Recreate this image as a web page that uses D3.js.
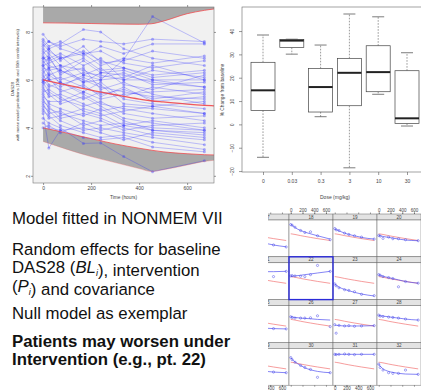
<!DOCTYPE html>
<html>
<head>
<meta charset="utf-8">
<script src="https://cdn.jsdelivr.net/npm/d3@7"></script>
<style>
  body { margin: 0; background: #fff; }
  svg { display: block; font-family: "Liberation Sans", Arial, sans-serif; }
</style>
</head>
<body>
<svg id="slide" width="421" height="392"></svg>
<script>
// ---------- observed DAS28 per patient (top left) ----------
const times = [0, 24, 72, 168, 240, 336, 456, 672];
const das28 = [
  [7.9, 7.6, 7.4, 7.7, 7.6, 7.5, 7.7, 7.6],
  [7.6, 7.3, 7.5, 8.1, 8.0, 7.3, 6.9, 6.6],
  [7.5, 7.2, 6.9, 7.2, 6.8, 6.5, 6.2, 6.4],
  [7.4, 7.6, 7.3, 7.0, 7.4, 7.1, 7.5, 7.5],
  [7.3, 7.1, 6.6, 6.4, 6.1, 6.3, 5.8, 5.9],
  [7.2, 6.9, 7.1, 6.6, 6.9, 6.0, 6.4, 6.1],
  [7.1, 7.3, 6.8, 7.4, 6.7, 6.8, 7.2, 6.9],
  [7.0, 6.6, 6.4, 6.0, 5.7, 5.5, 5.3, 5.2],
  [6.9, 7.0, 6.2, 6.8, 6.3, 6.4, 6.0, 5.7],
  [6.9, 6.8, 7.0, 6.2, 6.5, 5.8, 5.6, 6.2],
  [6.8, 6.5, 6.6, 5.9, 6.0, 6.1, 6.6, 6.0],
  [6.7, 6.9, 6.3, 6.5, 5.6, 5.9, 5.4, 5.0],
  [6.6, 6.2, 5.9, 5.5, 5.9, 5.2, 5.0, 4.8],
  [6.5, 6.4, 6.5, 6.9, 6.4, 6.5, 6.1, 6.3],
  [6.4, 6.0, 6.1, 5.7, 5.4, 5.6, 5.2, 5.5],
  [6.3, 6.5, 5.8, 6.1, 5.8, 5.0, 4.9, 4.6],
  [6.2, 5.8, 5.6, 5.2, 5.5, 5.3, 5.7, 5.4],
  [6.1, 6.3, 6.0, 6.3, 6.2, 6.0, 6.0, 6.0],
  [6.0, 5.7, 5.9, 5.4, 5.0, 4.8, 4.6, 4.3],
  [6.0, 6.1, 5.5, 5.8, 5.3, 5.7, 5.1, 5.3],
  [5.9, 5.5, 5.2, 4.9, 5.1, 4.6, 4.4, 4.5],
  [5.8, 6.0, 5.7, 6.2, 6.0, 6.85, 8.64, 7.54],
  [5.7, 5.3, 5.4, 5.0, 4.7, 4.9, 4.8, 4.6],
  [5.6, 5.4, 5.0, 5.3, 4.9, 4.4, 4.2, 3.9],
  [5.5, 5.6, 5.3, 4.7, 4.5, 4.7, 4.9, 5.1],
  [5.4, 5.0, 4.8, 4.5, 4.8, 4.3, 3.9, 3.7],
  [5.3, 5.1, 5.1, 5.5, 5.2, 5.4, 5.5, 5.6],
  [5.2, 4.8, 4.6, 4.3, 4.1, 4.2, 4.0, 3.9],
  [5.1, 4.9, 4.4, 4.6, 4.4, 4.0, 3.7, 3.5],
  [5.0, 4.6, 4.7, 4.1, 4.3, 3.9, 4.1, 4.2],
  [4.9, 4.7, 4.3, 3.9, 4.0, 3.8, 3.6, 3.3],
  [4.8, 4.4, 4.5, 4.8, 4.6, 4.1, 4.3, 4.0],
  [4.7, 4.5, 4.1, 3.8, 3.6, 3.7, 3.4, 3.1],
  [4.6, 3.16, 3.9, 4.0, 3.8, 3.5, 3.8, 3.6],
  [4.4, 4.2, 4.0, 3.35, 3.37, 2.8, 2.17, 2.63],
  [4.2, 4.0, 3.9, 3.6, 3.5, 3.6, 3.2, 3.0],
  [4.0, 4.1, 3.8, 4.2, 3.9, 4.1, 3.9, 3.8],
  [7.7, 7.4, 7.6, 7.1, 7.2, 6.7, 6.5, 6.8],
  [6.6, 6.7, 6.9, 7.1, 6.6, 6.9, 6.7, 7.0],
  [5.9, 6.2, 6.4, 5.9, 6.3, 6.2, 5.9, 5.7]
];

// model prediction and centile bands
const bandTimes = [0, 100, 200, 300, 400, 450, 500, 600, 672, 712];
const p90Upper  = [9.6, 9.6, 9.6, 9.6, 9.6, 9.6, 9.6, 9.6, 9.6, 9.6];
const p90       = [8.38, 8.37, 8.35, 8.33, 8.32, 8.34, 8.45, 8.76, 8.9, 8.96];
const meanPred  = [6.0, 5.78, 5.57, 5.38, 5.2, 5.13, 5.08, 4.99, 4.94, 4.92];
const p10       = [4.0, 3.78, 3.55, 3.33, 3.15, 3.07, 3.0, 2.92, 2.88, 2.87];
const p10Lower  = [3.43, 3.1, 2.8, 2.55, 2.3, 2.18, 2.25, 2.45, 2.6, 2.65];
const timeTicks = [0, 200, 400, 600];
const dasTicks  = [2, 4, 6, 8];

// ---------- box plot by dose (top right) ----------
const doses   = ["0", "0.03", "0.3", "3", "10", "30"];
const whiskHi = [38.3, 36.5, 34.0, 47.3, 46.1, 30.7];
const q3      = [26.6, 36.4, 24.0, 28.3, 33.7, 23.0];
const med     = [14.6, 35.9, 16.0, 22.1, 22.4, 2.6];
const q1      = [6.0, 32.9, 5.3, 8.0, 14.0, 0.4];
const whiskLo = [-14.1, 30.1, 3.3, -18.6, 12.9, -0.7];
const pctTicks = [40, 30, 20, 10, 0, -10, -20];

// ---------- individual fits (bottom right lattice) ----------
const panelIds = [17, 18, 19, 20, 21, 22, 23, 24, 25, 26, 27, 28, 29, 30, 31, 32];
const popPred = [6.0, 5.97, 5.9, 5.72, 5.6, 5.45, 5.27, 4.98];
const panelObs = [
  [5.6, 5.4, 5.2, 4.9, 4.7, 4.5, 4.3, 4.0],
  [7.4, 7.3, 7.0, 6.5, 6.2, 6.3, 5.7, 5.1],
  [6.8, 6.6, 6.5, 6.1, 5.9, 5.7, 5.5, 5.2],
  [5.75, 5.65, 5.3, 5.5, 5.25, 5.25, 5.1, 4.95],
  [6.5, 6.6, 6.7, 6.6, 6.8, 6.7, 6.0, 6.8],
  [6.1, 6.15, 6.1, 6.05, 6.0, 6.3, 7.7, 6.8],
  [4.9, 4.6, 4.3, 4.0, 3.9, 3.7, 3.3, 3.1],
  [6.3, 6.2, 6.0, 5.85, 5.7, 4.45, 5.25, 5.0],
  [5.3, 5.1, 5.0, 4.8, 4.7, 4.65, 4.6, 4.55],
  [6.4, 6.3, 6.2, 6.2, 6.2, 6.25, 6.55, 4.9],
  [5.2, 3.9, 5.1, 5.0, 5.05, 4.95, 5.0, 5.05],
  [6.65, 6.5, 6.45, 6.35, 6.3, 6.2, 6.05, 5.9],
  [5.8, 5.5, 5.2, 4.9, 4.7, 4.6, 4.5, 4.4],
  [6.7, 6.4, 6.0, 5.5, 5.2, 4.9, 3.7, 4.4],
  [7.2, 7.15, 7.2, 7.25, 7.2, 7.15, 7.2, 7.2],
  [5.7, 5.2, 4.8, 4.4, 4.3, 4.3, 4.8, 4.15]
];
const panelFit = [
  [5.55, 5.4, 5.2, 4.9, 4.72, 4.52, 4.3, 4.02],
  [7.5, 7.3, 6.95, 6.5, 6.25, 6.0, 5.7, 5.2],
  [6.75, 6.65, 6.45, 6.1, 5.9, 5.7, 5.45, 5.2],
  [5.75, 5.7, 5.6, 5.45, 5.35, 5.2, 5.05, 4.95],
  [6.6, 6.6, 6.65, 6.7, 6.7, 6.75, 6.75, 6.8],
  [6.05, 6.07, 6.1, 6.2, 6.3, 6.4, 6.55, 6.8],
  [4.9, 4.7, 4.4, 4.05, 3.85, 3.6, 3.35, 3.05],
  [6.3, 6.2, 6.05, 5.85, 5.7, 5.5, 5.25, 5.0],
  [5.3, 5.2, 5.05, 4.85, 4.75, 4.65, 4.6, 4.55],
  [6.4, 6.35, 6.3, 6.2, 6.15, 6.1, 6.0, 5.9],
  [5.15, 5.1, 5.05, 5.0, 5.0, 5.0, 5.0, 5.05],
  [6.6, 6.55, 6.5, 6.4, 6.3, 6.2, 6.05, 5.9],
  [5.75, 5.55, 5.25, 4.9, 4.75, 4.6, 4.5, 4.4],
  [6.7, 6.45, 6.05, 5.5, 5.15, 4.85, 4.6, 4.4],
  [7.2, 7.2, 7.2, 7.2, 7.2, 7.2, 7.2, 7.2],
  [5.7, 5.4, 5.0, 4.6, 4.45, 4.3, 4.2, 4.15]
];
const latticeTimeTicks = [0, 200, 400, 600];

// ---------- slide text ----------
const bullets = [
  { y: 224, parts: [["Model fitted in NONMEM VII"]] },
  { y: 255, parts: [["Random effects for baseline"]] },
  { y: 273, parts: [["DAS28 ("], ["BL", "i"], ["), intervention"]] },
  { y: 291.5, parts: [["("], ["P", "i"], [") and covariance"]] },
  { y: 318.5, parts: [["Null model as exemplar"]] },
  { y: 346.5, parts: [["Patients may worsen under"]], bold: true },
  { y: 365, parts: [["Intervention (e.g., pt. 22)"]], bold: true }
];

const svg = d3.select("#slide");
const defs = svg.append("defs");
const axisGrey = "#555";

function styleAxis(g, size) {
  g.select(".domain").remove();
  g.selectAll("line").attr("stroke", axisGrey).attr("stroke-width", 0.6);
  g.selectAll("text").attr("fill", "#444").attr("font-size", size).attr("font-family", null);
}

// ===== top left: DAS28 vs time =====
const tl = { left: 33, right: 214, top: 7, bottom: 183 };
const xT = d3.scaleLinear().domain([-42, 712]).range([tl.left, tl.right]);
const yT = d3.scaleLinear().domain([1.7, 9.04]).range([tl.bottom, tl.top]);

defs.append("clipPath").attr("id", "clipTL")
  .append("rect").attr("x", tl.left).attr("y", tl.top)
  .attr("width", tl.right - tl.left).attr("height", tl.bottom - tl.top);

svg.append("rect").attr("x", tl.left).attr("y", tl.top)
  .attr("width", tl.right - tl.left).attr("height", tl.bottom - tl.top)
  .attr("fill", "#f1f1f1");

const p1 = svg.append("g").attr("clip-path", "url(#clipTL)");
const bandIdx = d3.range(bandTimes.length);
const band = (lo, hi) => d3.area()
  .x(i => xT(bandTimes[i])).y0(i => yT(lo[i])).y1(i => yT(hi[i]))
  .curve(d3.curveMonotoneX);
const bandLine = arr => d3.line()
  .x(i => xT(bandTimes[i])).y(i => yT(arr[i]))
  .curve(d3.curveMonotoneX);

p1.append("path").datum(bandIdx).attr("d", band(p90, p90Upper)).attr("fill", "#a9a9a9");
p1.append("path").datum(bandIdx).attr("d", band(p10Lower, p10)).attr("fill", "#a9a9a9");

// patient profiles
const lineT = d3.line().x((d, i) => xT(times[i])).y(d => yT(d));
p1.selectAll("path.pt").data(das28).join("path").attr("class", "pt")
  .attr("d", lineT).attr("fill", "none")
  .attr("stroke", "#2f2fff").attr("stroke-opacity", 0.36).attr("stroke-width", 0.8);

const pts = das28.flatMap(r => r.map((v, i) => ({ t: times[i], v: v })));
p1.selectAll("circle.pt").data(pts).join("circle").attr("class", "pt")
  .attr("cx", d => xT(d.t)).attr("cy", d => yT(d.v)).attr("r", 1.5)
  .attr("fill", "#2f2fff").attr("fill-opacity", 0.35);

// model lines
[[p90, 0.9, 0.85], [p10, 0.9, 0.85], [meanPred, 1.3, 0.9], [p10Lower, 0.6, 0.45]].forEach(([arr, w, o]) => {
  p1.append("path").datum(bandIdx).attr("d", bandLine(arr))
    .attr("fill", "none").attr("stroke", "#f0474b").attr("stroke-width", w).attr("stroke-opacity", o);
});

svg.append("rect").attr("x", tl.left).attr("y", tl.top)
  .attr("width", tl.right - tl.left).attr("height", tl.bottom - tl.top)
  .attr("fill", "none").attr("stroke", "#777").attr("stroke-width", 0.6);

svg.append("g").attr("transform", `translate(0,${tl.bottom})`)
  .call(d3.axisBottom(xT).tickValues(timeTicks).tickSize(2).tickPadding(1.5))
  .call(g => styleAxis(g, 5));
svg.append("g").attr("transform", `translate(0,${tl.top})`)
  .call(d3.axisTop(xT).tickValues(timeTicks).tickSize(2).tickFormat(""))
  .call(g => styleAxis(g, 5));
svg.append("g").attr("transform", `translate(${tl.left},0)`)
  .call(d3.axisLeft(yT).tickValues(dasTicks).tickSize(2))
  .call(g => styleAxis(g, 5))
  .call(g => g.selectAll("text").attr("x", null).attr("dy", null)
    .attr("text-anchor", "middle").attr("transform", "translate(-3.5,0) rotate(-90)"));
svg.append("g").attr("transform", `translate(${tl.right},0)`)
  .call(d3.axisRight(yT).tickValues(dasTicks).tickSize(2).tickFormat(""))
  .call(g => styleAxis(g, 5));

svg.append("text").attr("x", (tl.left + tl.right) / 2).attr("y", 198.5)
  .attr("text-anchor", "middle").attr("font-size", 4.8).attr("fill", "#444").text("Time (hours)");
svg.append("text").attr("transform", "translate(13.5,89) rotate(-90)")
  .attr("text-anchor", "middle").attr("font-size", 4.4).attr("fill", "#444").text("DAS28");
svg.append("text").attr("transform", "translate(19,85) rotate(-90)")
  .attr("text-anchor", "middle").attr("font-size", 4.2).attr("fill", "#444")
  .attr("textLength", 112).attr("lengthAdjust", "spacingAndGlyphs")
  .text("with mean model predictions (10th and 90th centile intervals)");

// ===== top right: % change by dose =====
const tr = { left: 242, right: 428, top: 7, bottom: 172 };
const xB = d3.scalePoint().domain(doses).range([263, 407]);
const yB = d3.scaleLinear().domain([-20.4, 50.3]).range([tr.bottom, tr.top]);
const halfBox = 12;

defs.append("clipPath").attr("id", "clipTR")
  .append("rect").attr("x", tr.left).attr("y", tr.top)
  .attr("width", tr.right - tr.left).attr("height", tr.bottom - tr.top);

const p2 = svg.append("g").attr("clip-path", "url(#clipTR)");
const boxes = doses.map((d, i) => ({ dose: d, lo: whiskLo[i], q1: q1[i], med: med[i], q3: q3[i], hi: whiskHi[i] }));
const bx = p2.selectAll("g.box").data(boxes).join("g").attr("class", "box")
  .attr("transform", d => `translate(${xB(d.dose)},0)`);

bx.append("line").attr("y1", d => yB(d.q3)).attr("y2", d => yB(d.hi))
  .attr("stroke", "#555").attr("stroke-width", 0.6).attr("stroke-dasharray", "1.6,1.4");
bx.append("line").attr("y1", d => yB(d.q1)).attr("y2", d => yB(d.lo))
  .attr("stroke", "#555").attr("stroke-width", 0.6).attr("stroke-dasharray", "1.6,1.4");
bx.append("line").attr("x1", -halfBox / 2).attr("x2", halfBox / 2)
  .attr("y1", d => yB(d.hi)).attr("y2", d => yB(d.hi)).attr("stroke", "#444").attr("stroke-width", 0.7);
bx.append("line").attr("x1", -halfBox / 2).attr("x2", halfBox / 2)
  .attr("y1", d => yB(d.lo)).attr("y2", d => yB(d.lo)).attr("stroke", "#444").attr("stroke-width", 0.7);
bx.append("rect").attr("x", -halfBox).attr("width", halfBox * 2)
  .attr("y", d => yB(d.q3)).attr("height", d => yB(d.q1) - yB(d.q3))
  .attr("fill", "#fff").attr("stroke", "#444").attr("stroke-width", 0.7);
bx.append("line").attr("x1", -halfBox).attr("x2", halfBox)
  .attr("y1", d => yB(d.med)).attr("y2", d => yB(d.med))
  .attr("stroke", "#222").attr("stroke-width", 2);

svg.append("rect").attr("x", tr.left).attr("y", tr.top)
  .attr("width", tr.right - tr.left).attr("height", tr.bottom - tr.top)
  .attr("fill", "none").attr("stroke", "#666").attr("stroke-width", 0.6);

svg.append("g").attr("transform", `translate(0,${tr.bottom})`)
  .call(d3.axisBottom(xB).tickSize(3).tickPadding(4))
  .call(g => styleAxis(g, 5));
svg.append("g").attr("transform", `translate(${tr.left},0)`)
  .call(d3.axisLeft(yB).tickValues(pctTicks).tickSize(3))
  .call(g => styleAxis(g, 5))
  .call(g => g.selectAll("text").attr("x", null).attr("dy", null)
    .attr("text-anchor", "middle").attr("transform", "translate(-8,0) rotate(-90)"));

svg.append("text").attr("x", 335).attr("y", 199)
  .attr("text-anchor", "middle").attr("font-size", 5).attr("fill", "#444").text("Dose (mg/kg)");
svg.append("text").attr("transform", "translate(224,90) rotate(-90)")
  .attr("text-anchor", "middle").attr("font-size", 4.8).attr("fill", "#444").text("% Change from baseline");

// ===== bottom right: individual fits lattice (picture is cropped on its left) =====
const lat = { left: 245, top: 214, colW: 44, rowH: 42.8, strip: 6 };
const xL = d3.scaleLinear().domain([-30, 720]).range([0, lat.colW]);
const yL = d3.scaleLinear().domain([2.5, 8.1]).range([lat.rowH - lat.strip, 0]);
const lineL = d3.line().x((d, i) => xL(times[i])).y(d => yL(d)).curve(d3.curveMonotoneX);

defs.append("clipPath").attr("id", "clipLat")
  .append("rect").attr("x", 268).attr("y", 200).attr("width", 160).attr("height", 200);

const latG = svg.append("g").attr("clip-path", "url(#clipLat)");

const panels = panelIds.map((id, k) => ({
  id: id, row: Math.floor(k / 4), col: k % 4, obs: panelObs[k], fit: panelFit[k]
}));

const pg = latG.selectAll("g.panel").data(panels).join("g").attr("class", "panel")
  .attr("transform", d => `translate(${lat.left + d.col * lat.colW},${lat.top + d.row * lat.rowH})`);

pg.append("rect").attr("width", lat.colW).attr("height", lat.strip)
  .attr("fill", "#e3e3e3").attr("stroke", "#666").attr("stroke-width", 0.5);
pg.append("text").attr("x", lat.colW / 2).attr("y", lat.strip - 1.3)
  .attr("text-anchor", "middle").attr("font-size", 4.6).attr("fill", "#444").text(d => d.id);

const inner = pg.append("g").attr("transform", `translate(0,${lat.strip})`);
inner.append("rect").attr("width", lat.colW).attr("height", lat.rowH - lat.strip)
  .attr("fill", "#fff").attr("stroke", "#666").attr("stroke-width", 0.5);
inner.append("path").attr("d", lineL(popPred)).attr("fill", "none")
  .attr("stroke", "#f05a5a").attr("stroke-width", 0.6);
inner.append("path").attr("d", d => lineL(d.fit)).attr("fill", "none")
  .attr("stroke", "#5050f0").attr("stroke-width", 0.7);
inner.selectAll("circle").data(d => d.obs.map((v, i) => ({ t: times[i], v: v }))).join("circle")
  .attr("cx", d => xL(d.t)).attr("cy", d => yL(d.v)).attr("r", 1.1)
  .attr("fill", "none").attr("stroke", "#4b4be6").attr("stroke-width", 0.5);

// alternating time axes: labels on top over columns 2 and 4, below columns 1 and 3
pg.filter(d => d.row === 0).append("g")
  .call(d3.axisTop(xL).tickValues(latticeTimeTicks).tickSize(1.5).tickFormat(""))
  .call(g => styleAxis(g, 4.5));
pg.filter(d => d.row === 0 && d.col % 2 === 1).append("g")
  .call(d3.axisTop(xL).tickValues(latticeTimeTicks).tickSize(1.5).tickPadding(1))
  .call(g => styleAxis(g, 4.5));
pg.filter(d => d.row === 3).append("g").attr("transform", `translate(0,${lat.rowH})`)
  .call(d3.axisBottom(xL).tickValues(latticeTimeTicks).tickSize(1.5).tickFormat(""))
  .call(g => styleAxis(g, 4.5));
pg.filter(d => d.row === 3 && d.col % 2 === 0).append("g").attr("transform", `translate(0,${lat.rowH})`)
  .call(d3.axisBottom(xL).tickValues(latticeTimeTicks).tickSize(1.5).tickPadding(0.5))
  .call(g => styleAxis(g, 4.5));

// highlight patient 22
const hi22 = panels.find(d => d.id === 22);
svg.append("rect")
  .attr("x", lat.left + hi22.col * lat.colW).attr("y", lat.top + hi22.row * lat.rowH)
  .attr("width", lat.colW).attr("height", lat.rowH)
  .attr("fill", "none").attr("stroke", "#2b2bd9").attr("stroke-width", 1.4);

// ===== slide text =====
const txt = svg.append("g").attr("font-size", 16.8).attr("fill", "#111");
bullets.forEach(b => {
  const t = txt.append("text").attr("x", 12).attr("y", b.y)
    .attr("font-weight", b.bold ? "bold" : null);
  b.parts.forEach(p => {
    if (p.length === 1) {
      t.append("tspan").text(p[0]);
    } else {
      t.append("tspan").attr("font-style", "italic").text(p[0]);
      t.append("tspan").attr("font-style", "italic").attr("font-size", 9).attr("dy", 3).text(p[1]);
      t.append("tspan").attr("dy", -3).text("");
    }
  });
});
</script>
</body>
</html>
